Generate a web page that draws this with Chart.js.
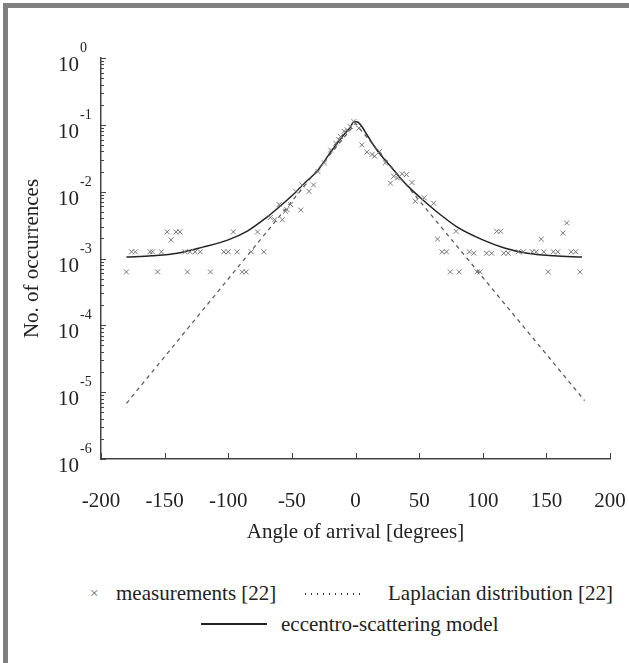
<!DOCTYPE html>
<html>
<head>
<meta charset="utf-8">
<script src="https://cdn.jsdelivr.net/npm/chart.js@4/dist/chart.umd.min.js"></script>
<style>
body{margin:0;background:#fff;}
#page{position:relative;width:629px;height:663px;overflow:hidden;background:#fff;font-family:"Liberation Serif",serif;color:#222;}
#wrap{position:absolute;left:0;top:0;width:629px;height:559px;}
#frameTop{position:absolute;left:3px;top:3px;width:626px;height:5px;background:#808080;}
#frameLeft{position:absolute;left:3px;top:3px;width:5px;height:660px;background:#808080;}
.lg{position:absolute;font-size:21px;line-height:24px;white-space:nowrap;}
</style>
</head>
<body>
<div id="page">
<div id="wrap"><canvas id="grafico" width="629" height="559"></canvas></div>
<div id="frameTop"></div>
<div id="frameLeft"></div>
<div class="lg" style="left:90px;top:581px;color:#666;font-size:15px;">×</div>
<div class="lg" style="left:116px;top:581px;">measurements [22]</div>
<div style="position:absolute;left:305px;top:593px;width:60px;height:2px;background:repeating-linear-gradient(to right,#333 0 1.5px,transparent 1.5px 6px);"></div>
<div class="lg" style="left:388px;top:581px;">Laplacian distribution [22]</div>
<div style="position:absolute;left:201px;top:623px;width:66px;height:2px;background:#222;"></div>
<div class="lg" style="left:281px;top:612px;">eccentro-scattering model</div>
</div>
<script>
// measurements (angle in degrees, occurrences)
const measAngles = [-180,-176,-173,-161.5,-159.5,-155.5,-152.5,-148,-145,-141,-138,-134,-132,-130,-126,-122,-114,
  -103.5,-100,-96,-93,-89,-86,-82,-77,-72,-67,-63.5,-60,-57.5,-55,-54,-51,-47,-43,-42,-36.5,-33,-29.5,-24.5,
  -19.5,-15.5,-13,-11.8,-9,-6.5,-4,-1.3,2.6,5,9,13,15,19,23.5,27.5,30,33,36.6,40,44.4,47,54,61.4,64.5,68,71.5,
  74.5,79,81.5,89.5,93,95.5,98,103,107,111,114,116.5,120,128,132,139,142,146,148,151.5,155.5,159,163,166,169.5,173,176.5];
const measValues = [6.3e-4,1.26e-3,1.26e-3,1.26e-3,1.26e-3,6.3e-4,1.26e-3,2.5e-3,1.9e-3,2.5e-3,2.5e-3,1.26e-3,6.3e-4,1.26e-3,1.26e-3,1.26e-3,6.3e-4,
  1.26e-3,1.26e-3,2.5e-3,1.26e-3,6.3e-4,6.3e-4,1.26e-3,2.5e-3,1.26e-3,4.1e-3,3.8e-3,6.4e-3,3.8e-3,5.1e-3,5.4e-3,6.4e-3,0.0101,5.3e-3,0.0126,0.0101,0.0126,0.020,0.027,
  0.042,0.053,0.06,0.067,0.08,0.084,0.094,0.112,0.089,0.05,0.039,0.036,0.034,0.040,0.027,0.0134,0.017,0.016,0.0185,0.018,0.0137,7.2e-3,8.1e-3,6.7e-3,1.95e-3,1.26e-3,1.26e-3,
  6.3e-4,2.55e-3,6.3e-4,1.26e-3,1.2e-3,6.3e-4,6.3e-4,1.2e-3,1.2e-3,2.55e-3,2.55e-3,1.2e-3,1.2e-3,1.26e-3,1.26e-3,1.26e-3,1.26e-3,1.95e-3,1.26e-3,6.3e-4,1.26e-3,1.26e-3,2.4e-3,3.4e-3,1.26e-3,1.26e-3,6.3e-4];

// Laplacian distribution [22]
const lapAngles = [-180, 0, 180];
const lapValues = [6.8e-6, 0.105, 7.5e-6];

// eccentro-scattering model
const modelAngles = [-180,-160,-140,-120,-100,-85,-70,-60,-50,-40,-30,-20,-10,-4,-1.5,1,4,9,15,20,27.5,35,43,51,65,80,100,117,135,156,178];
const modelValues = [1.05e-3,1.1e-3,1.2e-3,1.48e-3,1.9e-3,2.57e-3,4.1e-3,5.9e-3,8.7e-3,0.0135,0.0204,0.038,0.068,0.093,0.11,0.111,0.1,0.071,0.047,0.035,0.024,0.0162,0.0112,0.0081,4.8e-3,2.95e-3,1.9e-3,1.44e-3,1.2e-3,1.1e-3,1.05e-3];

const xTicks = [-200,-150,-100,-50,0,50,100,150,200];
const yExponents = [0,-1,-2,-3,-4,-5,-6];

const pares = (xs, ys) => xs.map((x, i) => ({x: x, y: ys[i]}));

const adornos = {
  id: 'adornos',
  afterDraw(chart){
    const ctx = chart.ctx;
    const xs = chart.scales.x;
    const ys = chart.scales.y;
    const a = chart.chartArea;
    ctx.save();
    ctx.strokeStyle = '#444';
    ctx.lineWidth = 1;
    ctx.beginPath();
    xTicks.forEach(v => {
      const px = Math.round(xs.getPixelForValue(v)) + 0.5;
      ctx.moveTo(px, a.bottom);
      ctx.lineTo(px, a.bottom - 6);
    });
    yExponents.forEach(e => {
      const py = Math.round(ys.getPixelForValue(Math.pow(10, e))) + 0.5;
      ctx.moveTo(a.left, py);
      ctx.lineTo(a.left + 5, py);
      if (e < 0) {
        for (let k = 2; k <= 9; k++) {
          const pm = Math.round(ys.getPixelForValue(k * Math.pow(10, e))) + 0.5;
          ctx.moveTo(a.left, pm);
          ctx.lineTo(a.left + 3, pm);
        }
      }
    });
    ctx.stroke();
    ctx.fillStyle = '#222';
    ctx.textBaseline = 'alphabetic';
    yExponents.forEach(e => {
      const py = ys.getPixelForValue(Math.pow(10, e));
      ctx.font = '21px "Liberation Serif"';
      ctx.textAlign = 'right';
      ctx.fillText('10', 79, py + 13);
      ctx.font = '14px "Liberation Serif"';
      ctx.textAlign = 'left';
      ctx.fillText(String(e), 80, py - 6);
    });
    ctx.restore();
  }
};

const ctx = document.getElementById('grafico');

new Chart(ctx, {
  type: 'scatter',
  data: {
    datasets: [{
      label: 'measurements [22]',
      data: pares(measAngles, measValues),
      pointStyle: 'crossRot',
      pointRadius: 3.5,
      borderColor: '#777',
      borderWidth: 1,
      showLine: false
    }, {
      label: 'Laplacian distribution [22]',
      data: pares(lapAngles, lapValues),
      showLine: true,
      borderColor: '#555',
      borderWidth: 1.2,
      borderDash: [4, 4],
      pointRadius: 0
    }, {
      label: 'eccentro-scattering model',
      data: pares(modelAngles, modelValues),
      showLine: true,
      borderColor: '#222',
      borderWidth: 1.5,
      cubicInterpolationMode: 'monotone',
      pointRadius: 0
    }]
  },
  options: {
    responsive: false,
    animation: false,
    devicePixelRatio: 1,
    layout: {padding: {left: 0, right: 19, top: 58, bottom: 0}},
    plugins: {legend: {display: false}, tooltip: {enabled: false}},
    scales: {
      x: {
        type: 'linear',
        min: -200,
        max: 200,
        afterFit: s => { s.height = 100; },
        afterBuildTicks: s => { s.ticks = xTicks.map(v => ({value: v})); },
        grid: {display: false, drawTicks: true, tickLength: 27},
        border: {display: true, color: '#444', width: 1.5},
        ticks: {color: '#222', padding: 3, font: {family: 'Liberation Serif', size: 21}},
        title: {display: true, text: 'Angle of arrival [degrees]', color: '#222',
          font: {family: 'Liberation Serif', size: 21}, padding: {top: 0, bottom: 14}}
      },
      y: {
        type: 'logarithmic',
        min: 1e-6,
        max: 1,
        afterFit: s => { s.width = 101; },
        grid: {display: false, drawTicks: false},
        border: {display: true, color: '#444', width: 1.5},
        ticks: {display: false},
        title: {display: true, text: 'No. of occurrences', color: '#222',
          font: {family: 'Liberation Serif', size: 21}, padding: {top: 20, bottom: 0}}
      }
    }
  },
  plugins: [adornos]
});
</script>
</body>
</html>
